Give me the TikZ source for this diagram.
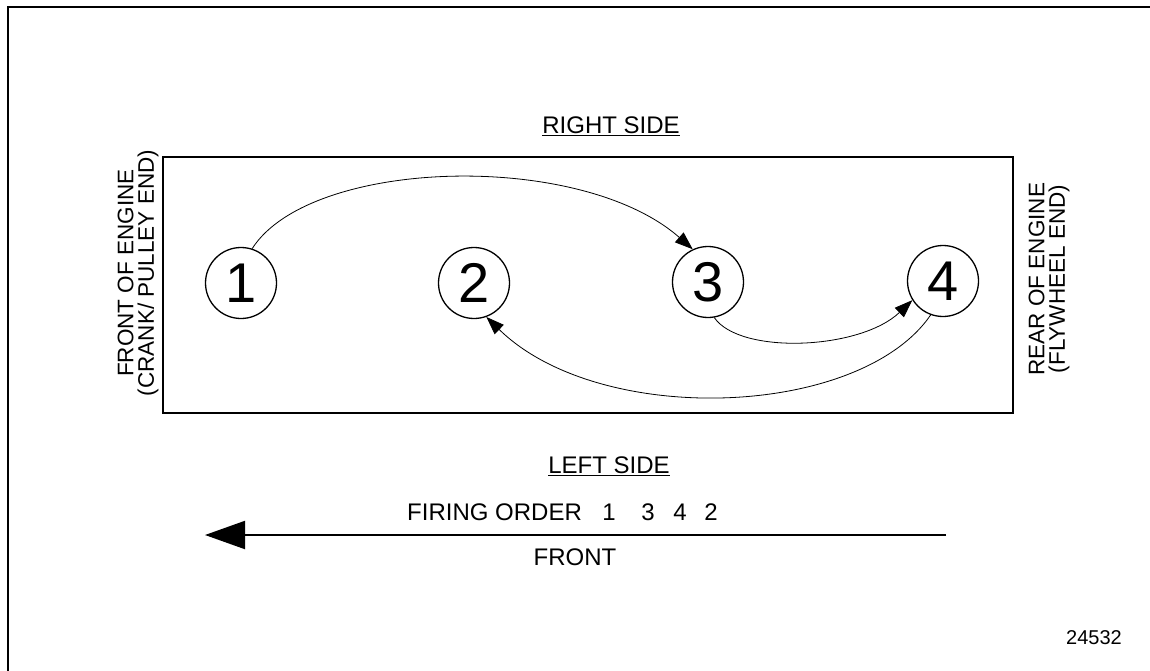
\documentclass[tikz,border=0pt]{standalone}
\usepackage{fontspec}
\setmainfont{Liberation Sans}
\usetikzlibrary{arrows.meta}
\begin{document}
\begin{tikzpicture}[x=1pt,y=-1pt,
  every node/.style={inner sep=0pt},
  lab/.style={font=\fontsize{24}{24}\selectfont},
  side/.style={rotate=90, align=center, font=\fontsize{22.5}{20.5}\selectfont},
  cyl/.style={circle, draw, line width=1.3pt, minimum size=71pt, font=\fontsize{56}{56}\selectfont},
  conn/.style={line width=0.8pt, -{Triangle[length=18pt,width=13pt]}},
  frame/.style={line width=2.5pt}]
\useasboundingbox (0,0) rectangle (1150,671);
% outer frame (top and left edges visible)
\coordinate (fa) at (1150,7);
\coordinate (fb) at (8,7);
\coordinate (fc) at (8,671);
\draw[frame] (fa) -- (fb) -- (fc);
% engine block
\node[draw, line width=2pt, minimum width=850pt, minimum height=255pt] (blk) at (588,285) {};
% cylinders
\node[cyl] (c1) at (241,283) {1};
\node[cyl] (c2) at (474,283) {2};
\node[cyl] (c3) at (708,282) {3};
\node[cyl] (c4) at (943,281) {4};
% firing sequence connectors
\draw[conn] (c1.72) .. controls (310,158) and (580,150) .. (c3.115);
\draw[conn] (c3.-80) .. controls (740,355) and (860,350) .. (c4.-148);
\draw[conn] (c4.-110) .. controls (860,418) and (600,428) .. (c2.-70);
% labels
\node[lab] (rs) at (611,126) {\underline{RIGHT SIDE}};
\node[lab] (ls) at (609,466) {\underline{LEFT SIDE}};
\node[side] (fe) at (138,273) {FRONT OF ENGINE\\(CRANK/ PULLEY END)};
\node[side] (re) at (1049,279) {REAR OF ENGINE\\(FLYWHEEL END)};
\node[lab, anchor=west] (fo) at (407,512) {FIRING ORDER};
\node[lab] (n1) at (609,512) {1};
\node[lab] (n3) at (648,512) {3};
\node[lab] (n4) at (680,512) {4};
\node[lab] (n2) at (711,512) {2};
% direction arrow
\coordinate (ar) at (946,535);
\coordinate (al) at (205,535);
\draw[line width=2pt, -{Triangle[length=40pt,width=28pt]}] (ar) -- (al);
\node[lab] (fr) at (575,557) {FRONT};
\node[font=\fontsize{20}{20}\selectfont] (id) at (1094,638) {24532};
\end{tikzpicture}
\end{document}
